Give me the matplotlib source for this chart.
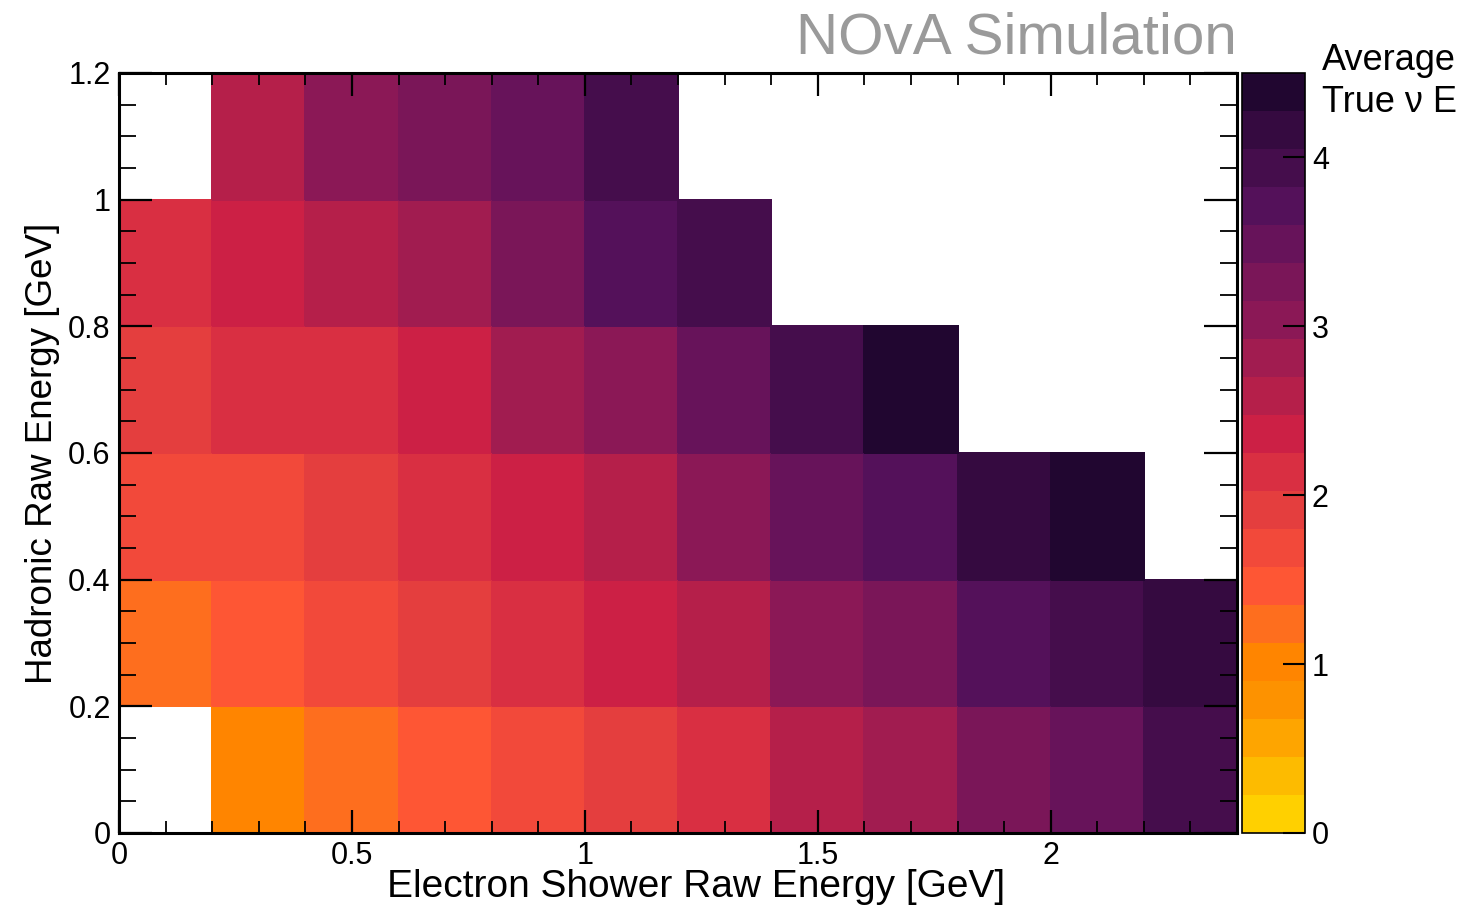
import numpy as np
import matplotlib
matplotlib.use("Agg")
import matplotlib.pyplot as plt
from matplotlib.colors import ListedColormap, BoundaryNorm
from matplotlib.ticker import MultipleLocator

plt.rcParams['font.family'] = ['Liberation Sans', 'DejaVu Sans']

# ---- data ----
x_edges = np.round(np.arange(0, 2.4001, 0.2), 2)   # Electron shower raw energy bins [GeV]
y_edges = np.round(np.arange(0, 1.2001, 0.2), 2)   # Hadronic raw energy bins [GeV]
nan = np.nan
# average true neutrino energy per cell (rows bottom -> top)
row_00_02 = [nan, 1.01, 1.24, 1.46, 1.69, 1.91, 2.14, 2.59, 2.81, 3.26, 3.49, 3.94]
row_02_04 = [1.24, 1.46, 1.69, 1.91, 2.14, 2.36, 2.59, 3.04, 3.26, 3.71, 3.94, 4.16]
row_04_06 = [1.69, 1.69, 1.91, 2.14, 2.36, 2.59, 3.04, 3.49, 3.71, 4.16, 4.39, nan]
row_06_08 = [1.91, 2.14, 2.14, 2.36, 2.81, 3.04, 3.49, 3.94, 4.39, nan, nan, nan]
row_08_10 = [2.14, 2.36, 2.59, 2.81, 3.26, 3.71, 3.94, nan, nan, nan, nan, nan]
row_10_12 = [nan, 2.59, 3.04, 3.26, 3.49, 3.94, nan, nan, nan, nan, nan, nan]

z_min, z_max, n_levels = 0.0, 4.5, 20
palette = ['#ffd000', '#fdbb00', '#fea500', '#fd9200', '#ff8500',
           '#fe6e1e', '#fe5634', '#f2493a', '#e43e3e', '#d92f42',
           '#cc2045', '#b51f4a', '#a11c50', '#8b1856', '#7a1658',
           '#67135a', '#54115a', '#450d4c', '#350a40', '#210630']
cbar_ticks = [0, 1, 2, 3, 4]

Z = np.ma.masked_invalid(np.array([row_00_02, row_02_04, row_04_06,
                                   row_06_08, row_08_10, row_10_12]))

W, H = 1458, 908
fig = plt.figure(figsize=(W / 100, H / 100), dpi=100)
ax = fig.add_axes([119 / W, 1 - 833 / H, (1237 - 119) / W, (833 - 73) / H])

cmap = ListedColormap(palette)
norm = BoundaryNorm(np.linspace(z_min, z_max, n_levels + 1), cmap.N)
mesh = ax.pcolormesh(x_edges, y_edges, Z, cmap=cmap, norm=norm,
                     edgecolor='face', linewidth=0.3)

ax.set_xlim(0, 2.4)
ax.set_ylim(0, 1.2)
ax.xaxis.set_major_locator(MultipleLocator(0.5))
ax.xaxis.set_minor_locator(MultipleLocator(0.1))
ax.yaxis.set_major_locator(MultipleLocator(0.2))
ax.yaxis.set_minor_locator(MultipleLocator(0.05))
ax.tick_params(axis='x', which='major', direction='in', length=16.5, width=1.6,
               top=True, bottom=True, labelsize=22, pad=6)
ax.tick_params(axis='x', which='minor', direction='in', length=8.3, width=1.3,
               top=True, bottom=True)
ax.tick_params(axis='y', which='major', direction='in', length=24, width=1.6,
               left=True, right=True, labelsize=22, pad=6)
ax.tick_params(axis='y', which='minor', direction='in', length=12, width=1.3,
               left=True, right=True)
ax.xaxis.set_major_formatter(plt.FuncFormatter(lambda v, p: f"{v:g}"))
ax.yaxis.set_major_formatter(plt.FuncFormatter(lambda v, p: f"{v:g}"))
for s in ax.spines.values():
    s.set_linewidth(2.2)

fig.text(696 / W, 1 - 887 / H, "Electron Shower Raw Energy [GeV]", fontsize=28,
         ha='center', va='center')
ax.set_ylabel("Hadronic Raw Energy [GeV]", fontsize=26.5, labelpad=6)

fig.text(1237 / W, 1 - 38 / H, "NOvA Simulation", color='#9a9a9a', fontsize=42,
         ha='right', va='center')

cax = fig.add_axes([1242 / W, 1 - 833 / H, 63 / W, (833 - 73) / H])
cb = fig.colorbar(mesh, cax=cax, ticks=cbar_ticks)
cb.outline.set_linewidth(1.2)
cax.tick_params(direction='in', length=16, width=1.5, labelsize=22, pad=5,
                right=True, left=False)
cax.minorticks_off()
cax.set_ylim(z_min, z_max)

fig.text(1322 / W, 1 - 60 / H, "Average", fontsize=26, ha='left', va='center')
fig.text(1322 / W, 1 - 103 / H, "True ν E", fontsize=26, ha='left', va='center')

fig.savefig("out.png", dpi=100)
